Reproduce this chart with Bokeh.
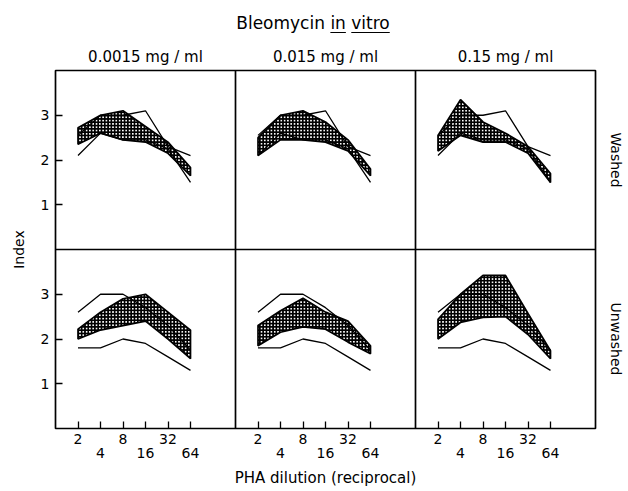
import math
from bokeh.plotting import figure
from bokeh.models import Range1d, LinearAxis, FixedTicker, Span, Div
from bokeh.layouts import column
from bokeh.embed import file_html
from bokeh.resources import INLINE

FONT = "DejaVu Sans"

# ---------------- data ----------------
dilution_labels = ["2", "4", "8", "16", "32", "64"]
log2_dilution = [1, 2, 3, 4, 5, 6]
concentrations = ["0.0015 mg / ml", "0.015 mg / ml", "0.15 mg / ml"]
conditions = ["Washed", "Unwashed"]
index_ticks = [1, 2, 3]

# control ranges (thin lines)
washed_ctrl_a = [2.1, 2.6, 2.45, 2.45, 2.25, 1.5]
washed_ctrl_b = [2.55, 3.0, 3.0, 3.1, 2.3, 2.1]
unwashed_ctrl_hi = [2.6, 3.0, 3.0, 2.7, 2.3, 1.75]
unwashed_ctrl_lo = [1.8, 1.8, 2.0, 1.9, 1.6, 1.3]

# bleomycin ranges (shaded bands)
washed_lo_0015 = [2.35, 2.6, 2.45, 2.4, 2.15, 1.65]
washed_hi_0015 = [2.72, 3.0, 3.1, 2.75, 2.4, 1.83]
washed_lo_015 = [2.1, 2.45, 2.45, 2.4, 2.2, 1.65]
washed_hi_015 = [2.5, 3.0, 3.1, 2.85, 2.45, 1.8]
washed_lo_15 = [2.2, 2.55, 2.4, 2.4, 2.15, 1.5]
washed_hi_15 = [2.55, 3.35, 2.85, 2.6, 2.3, 1.7]
unwashed_lo_0015 = [2.0, 2.2, 2.3, 2.4, 2.0, 1.56]
unwashed_hi_0015 = [2.22, 2.6, 2.9, 3.0, 2.6, 2.2]
unwashed_lo_015 = [1.85, 2.15, 2.27, 2.22, 1.93, 1.67]
unwashed_hi_015 = [2.3, 2.63, 2.91, 2.6, 2.4, 1.85]
unwashed_lo_15 = [2.0, 2.37, 2.48, 2.5, 2.1, 1.56]
unwashed_hi_15 = [2.44, 3.0, 3.42, 3.42, 2.57, 1.74]

bands = {
    "Washed": [(washed_lo_0015, washed_hi_0015), (washed_lo_015, washed_hi_015), (washed_lo_15, washed_hi_15)],
    "Unwashed": [(unwashed_lo_0015, unwashed_hi_0015), (unwashed_lo_015, unwashed_hi_015), (unwashed_lo_15, unwashed_hi_15)],
}
controls = {
    "Washed": [washed_ctrl_a, washed_ctrl_b],
    "Unwashed": [unwashed_ctrl_hi, unwashed_ctrl_lo],
}

# ---------------- layout ----------------
PANEL_X = 8   # log2 units spanned by one panel
PANEL_Y = 4   # index units spanned by one panel
NCOL = len(concentrations)
NROW = len(conditions)

p = figure(width=626, height=455,
           x_range=Range1d(0, NCOL * PANEL_X), y_range=Range1d(0, NROW * PANEL_Y),
           x_axis_location=None, y_axis_location=None,
           toolbar_location=None, output_backend="svg",
           min_border_left=55, min_border_right=29, min_border_top=36, min_border_bottom=58)
p.grid.visible = False
p.outline_line_color = "black"
p.outline_line_width = 1.7
p.background_fill_color = "white"
p.border_fill_color = "white"
p.margin = (0, 0, 0, 0)

for c in range(NCOL):
    p.extra_x_ranges[f"c{c}"] = Range1d(-c * PANEL_X, (NCOL - c) * PANEL_X)
for r, cond in enumerate(conditions):
    shift = (NROW - 1 - r) * PANEL_Y
    p.extra_y_ranges[cond] = Range1d(-shift, NROW * PANEL_Y - shift)

for cond in conditions:
    for c in range(NCOL):
        lo, hi = bands[cond][c]
        p.patch(log2_dilution + log2_dilution[::-1], lo + hi[::-1],
                x_range_name=f"c{c}", y_range_name=cond,
                fill_color="white", hatch_pattern="+", hatch_color="black",
                hatch_scale=3.3, hatch_weight=2.1,
                line_color="black", line_width=1.7)
        for ctrl in controls[cond]:
            p.line(log2_dilution, ctrl, x_range_name=f"c{c}", y_range_name=cond,
                   line_color="black", line_width=1.3)

for c in range(1, NCOL):
    p.add_layout(Span(location=c * PANEL_X, dimension="height", line_color="black", line_width=1.7))
for r in range(1, NROW):
    p.add_layout(Span(location=r * PANEL_Y, dimension="width", line_color="black", line_width=1.7))


def style(ax, size="14px"):
    ax.axis_line_color = None
    ax.minor_tick_line_color = None
    ax.major_tick_line_color = "black"
    ax.major_tick_line_width = 1.3
    ax.major_tick_in = 7
    ax.major_tick_out = 0
    ax.major_label_text_font = FONT
    ax.major_label_text_font_size = size
    ax.major_label_text_color = "black"
    ax.axis_label_text_font = FONT
    ax.axis_label_text_font_size = "15px"
    ax.axis_label_text_font_style = "normal"
    ax.axis_label_text_color = "black"


# left axis: index
y_ticks, y_over = [], {}
for r in range(NROW):
    shift = (NROW - 1 - r) * PANEL_Y
    for t in index_ticks:
        y_ticks.append(t + shift)
        y_over[t + shift] = str(t)
left = LinearAxis(ticker=FixedTicker(ticks=y_ticks), major_label_overrides=y_over,
                  axis_label="Index", major_label_standoff=6, axis_label_standoff=11)
style(left)
left.axis_label_text_font_size = "14px"
p.add_layout(left, "left")

# bottom axes: staggered dilution labels
ticks_a, over_a, ticks_b, over_b = [], {}, [], {}
for c in range(NCOL):
    for i, (x, lab) in enumerate(zip(log2_dilution, dilution_labels)):
        pos = x + c * PANEL_X
        ticks_a.append(pos)
        if i % 2 == 0:
            over_a[pos] = lab
        else:
            over_a[pos] = ""
            ticks_b.append(pos)
            over_b[pos] = lab
bot_a = LinearAxis(ticker=FixedTicker(ticks=ticks_a), major_label_overrides=over_a,
                   major_label_standoff=5)
style(bot_a)
p.add_layout(bot_a, "below")
bot_b = LinearAxis(ticker=FixedTicker(ticks=ticks_b), major_label_overrides=over_b,
                   major_label_standoff=1, axis_label="PHA dilution (reciprocal)",
                   axis_label_standoff=8)
style(bot_b)
bot_b.major_tick_line_color = None
p.add_layout(bot_b, "below")

# above axis: concentrations
top_ticks = [PANEL_X / 2 + c * PANEL_X for c in range(NCOL)]
top = LinearAxis(ticker=FixedTicker(ticks=top_ticks),
                 major_label_overrides={t: s for t, s in zip(top_ticks, concentrations)},
                 major_label_standoff=5)
style(top, "15px")
top.major_tick_line_color = None
p.add_layout(top, "above")

# right axis: conditions
right_ticks = [(NROW - 1 - r) * PANEL_Y + PANEL_Y / 2 for r in range(NROW)]
right = LinearAxis(ticker=FixedTicker(ticks=right_ticks),
                   major_label_overrides={t: s for t, s in zip(right_ticks, conditions)},
                   major_label_standoff=12, major_label_orientation="vertical")
style(right, "14px")
right.major_tick_line_color = None
p.add_layout(right, "right")

title = Div(text=(
    '<div style="width:600px;padding-left:26px;padding-top:11px;text-align:center;'
    'font-family:\'DejaVu Sans\';font-size:17px;color:black;">Bleomycin '
    '<u style="text-underline-offset:3px">in</u> '
    '<u style="text-underline-offset:3px">vitro</u></div>'),
    width=626, height=34, margin=(0, 0, 0, 0))

layout = column(title, p, spacing=0)
open("out.html", "w").write(file_html(layout, INLINE))
